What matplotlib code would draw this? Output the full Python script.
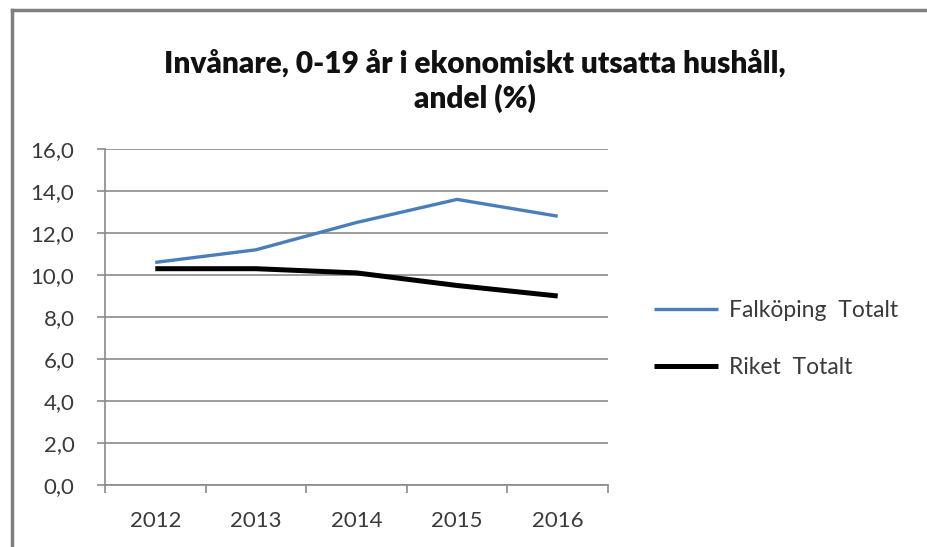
import matplotlib
matplotlib.use("Agg")
import matplotlib.pyplot as plt
from matplotlib.lines import Line2D
from matplotlib import font_manager

years = ["2012", "2013", "2014", "2015", "2016"]
falkoping = [10.6, 11.2, 12.5, 13.6, 12.8]
riket = [10.3, 10.3, 10.1, 9.5, 9.0]
yticks = [0, 2, 4, 6, 8, 10, 12, 14, 16]
title = "Invånare, 0-19 år i ekonomiskt utsatta hushåll,\nandel (%)"
labels = ["Falköping  Totalt", "Riket  Totalt"]

names = {f.name for f in font_manager.fontManager.ttflist}
title_font = "Lato" if "Lato" in names else "DejaVu Sans"
tick_font = "Lato" if "Lato" in names else "DejaVu Sans"

W, H = 927, 547
fig = plt.figure(figsize=(W / 100, H / 100), dpi=100)
ax = fig.add_axes([105 / W, 1 - 485 / H, (608 - 105) / W, (485 - 149) / H])

x = list(range(len(years)))
grid_c = "#8a8a8a"
ax.plot(x, falkoping, color="#4a7ebb", lw=2.4, label=labels[0], solid_capstyle="butt")
ax.plot(x, riket, color="#000000", lw=3.6, label=labels[1], solid_capstyle="butt")

ax.set_xlim(-0.5, len(years) - 0.5)
ax.set_ylim(0, 16)
ax.set_yticks(yticks)
ax.set_yticklabels([f"{v:.1f}".replace(".", ",") for v in yticks])
ax.set_xticks(x)
ax.set_xticklabels(years)
ax.set_xticks([i - 0.5 for i in range(len(years) + 1)], minor=True)
ax.grid(axis="y", color=grid_c, lw=1.2)
ax.set_axisbelow(True)

for s in ["top", "right"]:
    ax.spines[s].set_visible(False)
for s in ["left", "bottom"]:
    ax.spines[s].set_color(grid_c)
    ax.spines[s].set_linewidth(1.2)

ax.tick_params(axis="y", length=6, width=1.2, color=grid_c, pad=16,
               labelsize=16, labelcolor="#3a3a3a")
ax.tick_params(axis="x", which="major", length=0, pad=19,
               labelsize=16, labelcolor="#3a3a3a")
ax.tick_params(axis="x", which="minor", length=6, width=1.2, color=grid_c)
for lab in ax.get_xticklabels() + ax.get_yticklabels():
    lab.set_fontfamily(tick_font)

fig.text(475 / W, 1 - 81 / H, title, ha="center", va="center", fontsize=21.5,
         fontweight="heavy", family=title_font, color="#111111", linespacing=1.25)

leg = ax.legend(loc="center left", bbox_to_anchor=(528 / (608 - 105), (485 - 339) / (485 - 149)),
                frameon=False, handlelength=2.8, handletextpad=0.5, labelspacing=1.55,
                prop={"family": tick_font, "size": 16.5})
for t in leg.get_texts():
    t.set_color("#3a3a3a")

fig.add_artist(Line2D([12 / W, 12 / W], [0, 1 - 10 / H], color="#7f7f7f", lw=2.5))
fig.add_artist(Line2D([12 / W, 1], [1 - 10 / H, 1 - 10 / H], color="#7f7f7f", lw=2.5))

fig.savefig("out.png", dpi=100)
